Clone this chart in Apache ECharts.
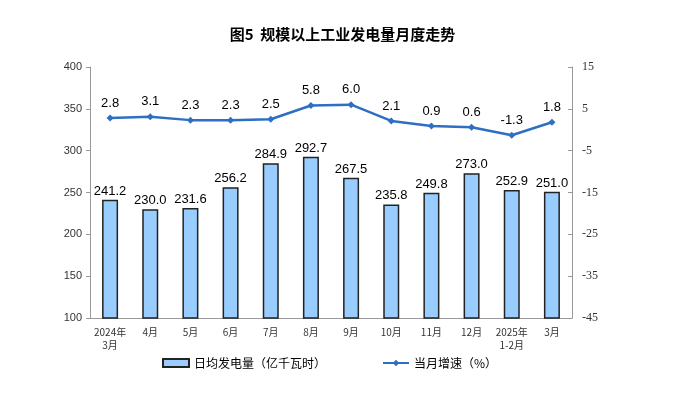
<!DOCTYPE html>
<html><head><meta charset="utf-8">
<script src="https://cdn.jsdelivr.net/npm/echarts@6/dist/echarts.min.js"></script>
<style>html,body{margin:0;padding:0;background:#fff}#c{width:685px;height:394px}</style>
</head><body><div id="c"></div>
<script>
const categories = ['2024年\n3月','4月','5月','6月','7月','8月','9月','10月','11月','12月','2025年\n1-2月','3月'];
const dailyOutput = [241.2, 230.0, 231.6, 256.2, 284.9, 292.7, 267.5, 235.8, 249.8, 273.0, 252.9, 251.0];
const growth = [2.8, 3.1, 2.3, 2.3, 2.5, 5.8, 6.0, 2.1, 0.9, 0.6, -1.3, 1.8];
const leftTicks = [100, 400, 50];
const rightTicks = [-45, 15, 10];

const chart = echarts.init(document.getElementById('c'));
chart.setOption({
  animation: false,
  title: {
    text: '图5  规模以上工业发电量月度走势',
    left: 'center', top: 22,
    textStyle: {fontSize: 15, fontWeight: 'bold', color: '#000', fontFamily: 'Noto Sans CJK SC'}
  },
  legend: {
    bottom: 20, left: 157,
    itemGap: 56, itemWidth: 26, itemHeight: 8,
    textStyle: {fontSize: 12, color: '#000', fontFamily: 'Noto Sans CJK SC'},
    data: [
      {name: '日均发电量（亿千瓦时）', icon: 'rect'},
      {name: '当月增速（%）'}
    ]
  },
  grid: {left: 90, right: 113, top: 67, bottom: 76},
  xAxis: {
    type: 'category', data: categories,
    axisLine: {onZero: false, lineStyle: {color: '#999'}},
    axisTick: {inside: true, length: 4, lineStyle: {color: '#999'}},
    axisLabel: {color: '#333', fontSize: 10, interval: 0, lineHeight: 13, fontFamily: 'Noto Sans CJK SC'}
  },
  yAxis: [
    {type: 'value', min: leftTicks[0], max: leftTicks[1], interval: leftTicks[2],
     axisLine: {show: true, lineStyle: {color: '#999'}},
     axisTick: {show: true, length: 4, lineStyle: {color: '#999'}},
     splitLine: {show: false},
     axisLabel: {color: '#333', fontSize: 11, margin: 8, fontFamily: 'Liberation Sans'}},
    {type: 'value', min: rightTicks[0], max: rightTicks[1], interval: rightTicks[2],
     axisLine: {show: true, lineStyle: {color: '#999'}},
     axisTick: {show: true, inside: true, length: 4, lineStyle: {color: '#999'}},
     splitLine: {show: false},
     axisLabel: {color: '#333', fontSize: 12, margin: 10, fontFamily: 'Liberation Serif'}}
  ],
  series: [
    {name: '日均发电量（亿千瓦时）', type: 'bar', data: dailyOutput, barWidth: 16,
     itemStyle: {color: '#99CCFF', borderColor: '#222', borderWidth: 1.5},
     label: {show: true, position: 'top', distance: 2, color: '#000', fontSize: 13, fontFamily: 'Liberation Sans',
       formatter: p => p.value.toFixed(1)}},
    {name: '当月增速（%）', type: 'line', yAxisIndex: 1, data: growth,
     symbol: 'diamond', symbolSize: 7,
     lineStyle: {color: '#2E6FC4', width: 2.5},
     itemStyle: {color: '#2E6FC4'},
     label: {show: true, position: 'top', distance: 5, color: '#000', fontSize: 13, fontFamily: 'Liberation Sans',
       formatter: p => p.value.toFixed(1)}}
  ]
});
</script></body></html>
